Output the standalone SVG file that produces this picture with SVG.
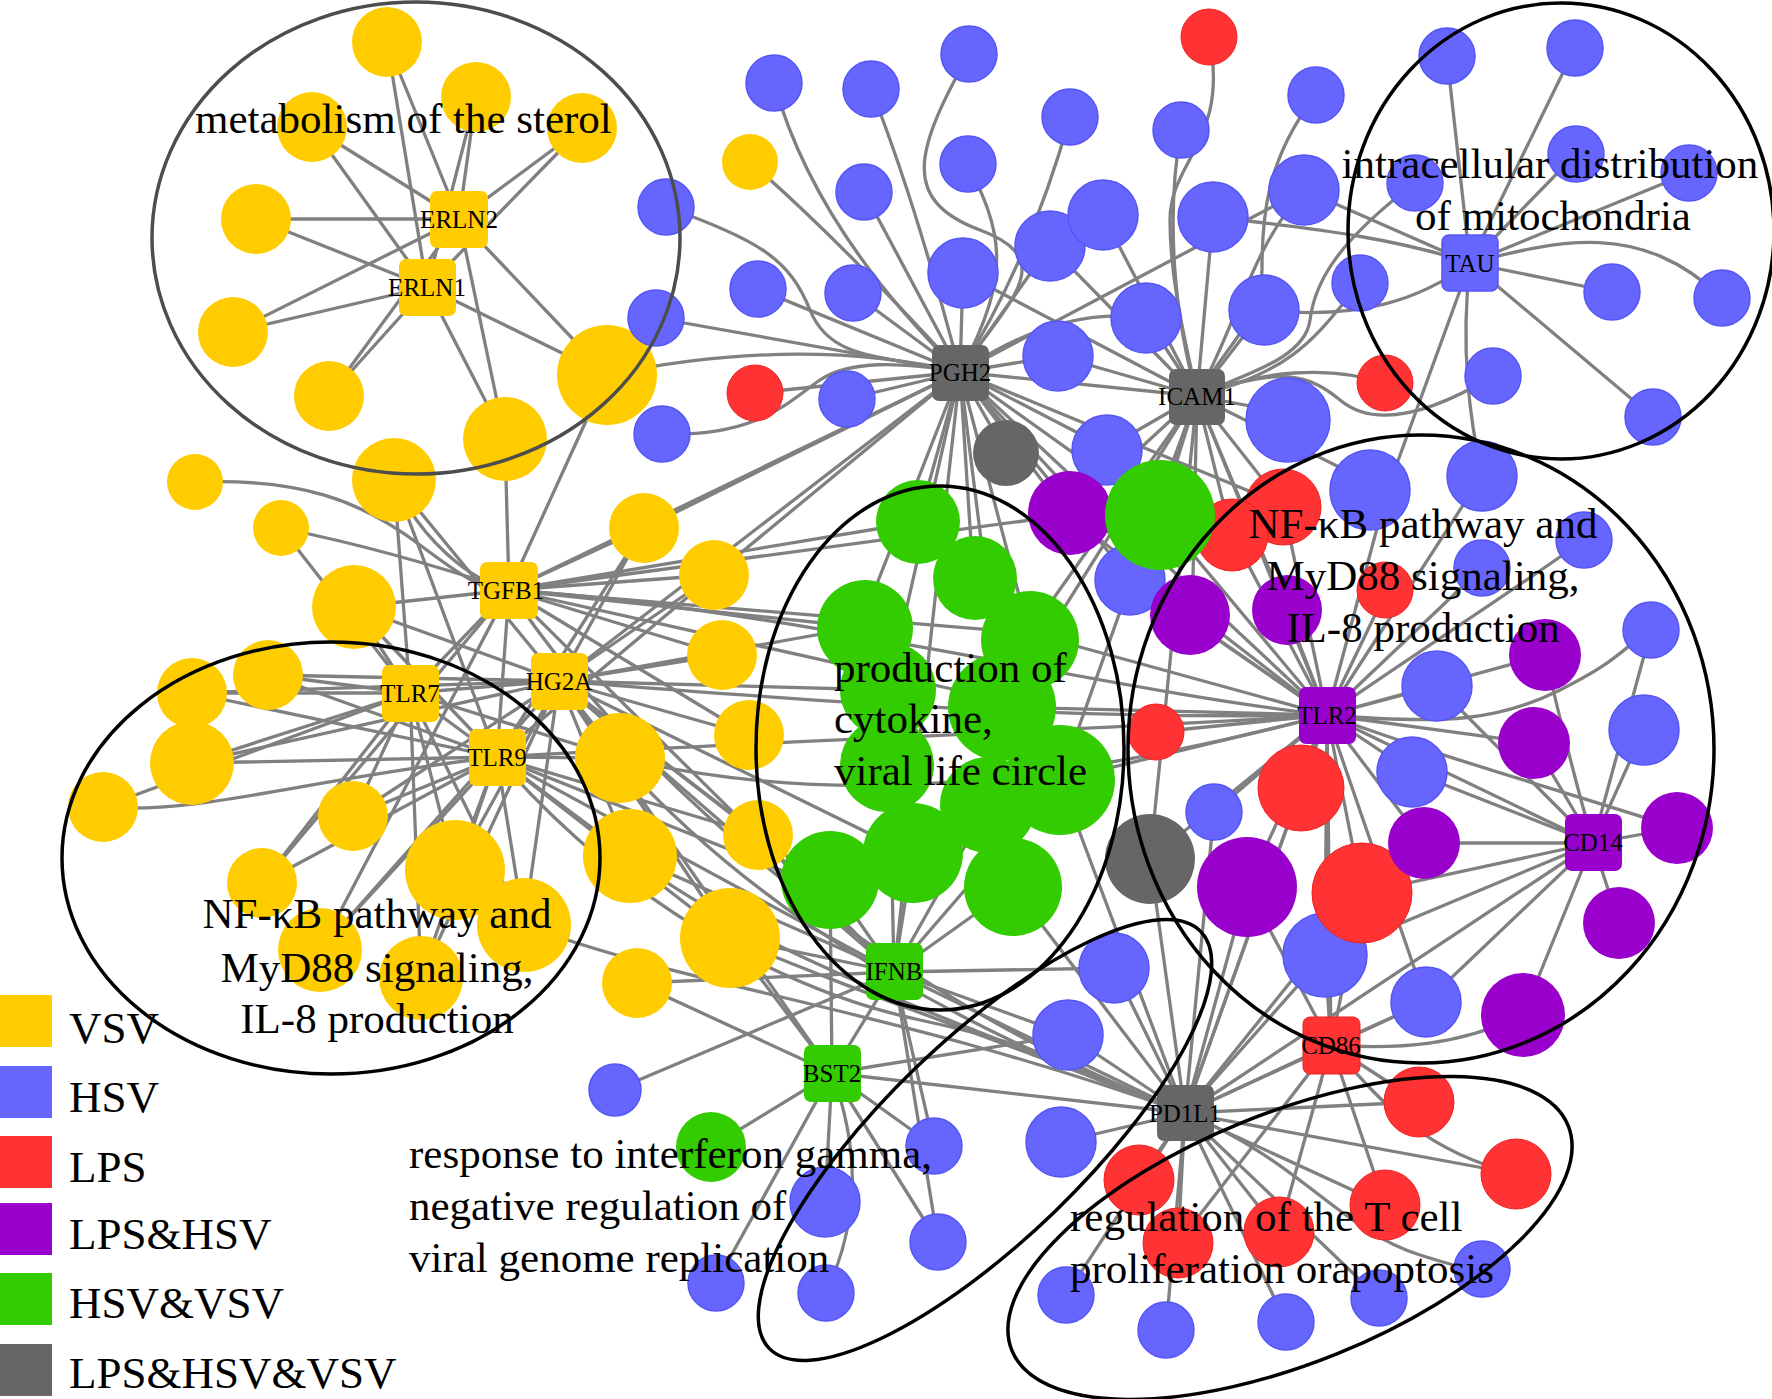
<svg xmlns="http://www.w3.org/2000/svg" width="1772" height="1399" viewBox="0 0 1772 1399">
<style>
.e path{stroke:#808080;stroke-width:3.3;fill:none;stroke-linecap:round}
.y{fill:#FFCC00}
.b{fill:#6666FF;stroke:#5555F5;stroke-width:1.5}
.r{fill:#FF3333;stroke:#F02020;stroke-width:1}
.p{fill:#9900CC}
.g{fill:#33CC00}
.k{fill:#666666}
.lbl{font-family:"Liberation Serif","Times New Roman",serif;font-size:25px;text-anchor:middle;fill:#000}
.ann{font-family:"Liberation Serif","Times New Roman",serif;font-size:43px;fill:#000}
.leg{font-family:"Liberation Serif","Times New Roman",serif;font-size:45px;fill:#000}
.ring{fill:none;stroke:#000;stroke-width:3.5}
</style>
<rect width="1772" height="1399" fill="#fff"/>
<g id="edges" class="e">
<path d="M459 219L387 42"/><path d="M459 219L476 97"/><path d="M459 219L312 127"/><path d="M459 219L582 128"/><path d="M459 219L256 219"/><path d="M459 219L233 332"/><path d="M459 219L329 396"/><path d="M459 219L505 439"/><path d="M459 219L607 375"/>
<path d="M427 287L387 42"/><path d="M427 287L476 97"/><path d="M427 287L312 127"/><path d="M427 287L582 128"/><path d="M427 287L256 219"/><path d="M427 287L233 332"/><path d="M427 287L329 396"/><path d="M427 287L505 439"/><path d="M427 287L607 375"/>
<path d="M509 590L505 439"/><path d="M509 590L607 375"/><path d="M394 480C420 540 470 580 509 590"/><path d="M195 482C300 478 360 500 420 545S480 585 509 590"/><path d="M281 528C340 540 420 560 509 590"/><path d="M509 590L354 607"/><path d="M509 590L644 528"/><path d="M509 590L714 575"/><path d="M509 590L722 655"/><path d="M509 590L749 735"/><path d="M509 590L918 522"/><path d="M509 590L860 627"/><path d="M509 590L1029 633"/><path d="M509 590L1001 700"/><path d="M509 590L1068 515"/><path d="M509 590L960 372"/><path d="M509 590L497 757"/><path d="M509 590L410 693"/><path d="M509 590L262 883"/><path d="M509 590L320 950"/><path d="M509 590C800 610 1100 690 1327 715"/><path d="M509 590L894 972"/><path d="M509 590C650 800 900 1000 1185 1113"/>
<path d="M559 681L394 480"/><path d="M559 681L354 607"/><path d="M559 681L268 675"/><path d="M559 681L192 693"/><path d="M559 681L192 763"/><path d="M559 681L353 816"/><path d="M559 681L455 870"/><path d="M559 681L524 925"/><path d="M559 681L620 758"/><path d="M559 681L630 856"/><path d="M559 681L644 528"/><path d="M559 681L714 575"/><path d="M559 681L722 655"/><path d="M559 681L749 735"/><path d="M559 681L758 835"/><path d="M559 681L730 938"/><path d="M559 681L860 627"/><path d="M559 681L888 690"/><path d="M559 681L915 856"/><path d="M559 681L831 890"/><path d="M559 681L894 972"/><path d="M559 681C800 700 1050 720 1327 715"/><path d="M559 681C680 860 900 1010 1185 1113"/><path d="M559 681L960 372"/><path d="M559 681L421 978"/><path d="M559 681L320 950"/><path d="M559 681L410 693"/>
<path d="M410 693L394 480"/><path d="M410 693L281 528"/><path d="M410 693L354 607"/><path d="M410 693L268 675"/><path d="M410 693L192 693"/><path d="M410 693L192 763"/><path d="M410 693L103 807"/><path d="M410 693L353 816"/><path d="M410 693L262 883"/><path d="M410 693L455 870"/><path d="M410 693L524 925"/><path d="M410 693L421 978"/><path d="M410 693L497 757"/><path d="M410 693L620 758"/>
<path d="M497 757L394 480"/><path d="M497 757L354 607"/><path d="M497 757L268 675"/><path d="M497 757L192 693"/><path d="M497 757L192 763"/><path d="M103 807C200 815 300 780 497 757"/><path d="M497 757L353 816"/><path d="M497 757L262 883"/><path d="M497 757L455 870"/><path d="M497 757L524 925"/><path d="M497 757L320 950"/><path d="M497 757L421 978"/><path d="M497 757L620 758"/><path d="M497 757L630 856"/><path d="M497 757L758 835"/><path d="M497 757L730 938"/><path d="M497 757L831 890"/><path d="M497 757L894 972"/><path d="M497 757C620 900 780 990 920 1020S1100 1080 1185 1113"/><path d="M497 757C800 740 1100 730 1327 715"/><path d="M497 757L714 575"/><path d="M497 757L644 528"/>
<path d="M524 925C700 990 900 1010 1185 1113"/><path d="M630 856C750 950 950 1020 1185 1113"/><path d="M730 938C850 990 1000 1040 1185 1113"/><path d="M620 758C800 800 1000 800 1327 715"/>
<path d="M774 83Q815 230 960 372"/><path d="M871 89Q915 200 960 372"/><path d="M969 54C915 150 900 200 980 230S1010 300 960 372"/><path d="M750 162Q840 240 960 372"/><path d="M666 207C760 240 790 260 810 310S880 355 960 372"/><path d="M960 372L864 192"/><path d="M968 164C1000 230 1015 270 960 372"/><path d="M1070 117Q1030 260 960 372"/><path d="M960 372L963 273"/><path d="M960 372L1050 246"/><path d="M960 372L758 289"/><path d="M960 372L853 293"/><path d="M960 372L656 318"/><path d="M607 375Q800 335 960 372"/><path d="M960 372L755 393"/><path d="M960 372L847 399"/><path d="M662 434C760 437 790 400 820 380S900 362 960 372"/><path d="M960 372L1058 356"/><path d="M1146 318Q1060 305 960 372"/><path d="M960 372L1006 453"/><path d="M960 372L1107 448"/><path d="M960 372L1197 396"/><path d="M960 372L1304 190"/><path d="M960 372L918 522"/><path d="M960 372L973 573"/><path d="M960 372L1029 633"/><path d="M960 372L1068 515"/><path d="M960 372L1160 515"/><path d="M960 372L1327 715"/><path d="M960 372L894 972"/><path d="M960 372L860 627"/><path d="M960 372L644 528"/><path d="M960 372L714 575"/><path d="M960 372L1283 505"/><path d="M960 372L1130 578"/><path d="M960 372L1192 622"/><path d="M960 372L1002 707"/><path d="M960 372L888 690"/>
<path d="M1209 37C1230 140 1170 160 1170 220S1185 340 1197 396"/><path d="M1316 95C1265 160 1262 220 1262 270S1230 340 1197 396"/><path d="M1181 130C1165 220 1175 320 1197 396"/><path d="M1197 396L1213 217"/><path d="M1304 190C1250 250 1235 330 1197 396"/><path d="M1197 396L1264 310"/><path d="M1360 283C1320 330 1300 370 1197 396"/><path d="M1415 183C1340 240 1315 280 1310 320S1240 375 1197 396"/><path d="M1197 396L1287 413"/><path d="M1385 383C1330 365 1260 370 1197 396"/><path d="M1493 376C1420 420 1370 425 1340 400S1280 365 1197 396"/><path d="M1197 396L1146 318"/><path d="M1197 396L1103 215"/><path d="M1197 396L963 273"/><path d="M1197 396L1058 356"/><path d="M1197 396L1107 448"/><path d="M1197 396L1160 515"/><path d="M1197 396L1068 515"/><path d="M1197 396L1283 505"/><path d="M1197 396L1230 530"/><path d="M1197 396L1327 715"/><path d="M1197 396L1192 622"/><path d="M1197 396L1130 578"/><path d="M1197 396L1150 859"/><path d="M1197 396L1029 633"/><path d="M1197 396L1002 707"/><path d="M1197 396L1060 780"/><path d="M1197 396L1289 617"/><path d="M1197 396L1387 491"/><path d="M1197 396L1050 246"/>
<path d="M1470 263L1447 56"/><path d="M1470 263L1575 48"/><path d="M1470 263L1576 154"/><path d="M1470 263L1689 173"/><path d="M1470 263L1612 292"/><path d="M1470 263C1560 240 1640 220 1722 298"/><path d="M1470 263L1653 417"/><path d="M1470 263L1304 190"/><path d="M1470 263C1400 240 1330 230 1213 217"/><path d="M1470 263C1420 300 1360 320 1264 310"/><path d="M1470 263L1387 491"/><path d="M1470 263C1460 350 1470 420 1482 476"/>
<path d="M1327 715L1283 505"/><path d="M1327 715L1230 530"/><path d="M1327 715L1160 515"/><path d="M1327 715L1068 515"/><path d="M1327 715L1192 622"/><path d="M1327 715L1289 617"/><path d="M1327 715L1387 590"/><path d="M1327 715L1387 491"/><path d="M1327 715L1482 476"/><path d="M1327 715C1420 650 1500 600 1584 540"/><path d="M1327 715L1482 568"/><path d="M1327 715L1130 578"/><path d="M1327 715L1437 686"/><path d="M1327 715C1450 725 1500 720 1560 690S1620 650 1651 630"/><path d="M1327 715L1534 743"/><path d="M1327 715L1156 732"/><path d="M1327 715L1301 788"/><path d="M1327 715L1412 772"/><path d="M1327 715L1214 812"/><path d="M1327 715L1424 843"/><path d="M1327 715L1247 887"/><path d="M1327 715L1362 893"/><path d="M1327 715L1150 859"/><path d="M1327 715L1325 955"/><path d="M1327 715L1331 1045"/><path d="M1327 715L1593 843"/><path d="M1327 715L1185 1113"/><path d="M1327 715L1060 780"/><path d="M1327 715L1029 633"/><path d="M1327 715L1002 707"/><path d="M1327 715C1450 760 1560 790 1677 828"/><path d="M1327 715L1426 1002"/><path d="M1327 715L1545 655"/>
<path d="M1545 655C1560 720 1575 780 1593 843"/><path d="M1593 843L1534 743"/><path d="M1593 843L1677 828"/><path d="M1593 843L1619 923"/><path d="M1593 843L1644 730"/><path d="M1593 843L1412 772"/><path d="M1593 843L1424 843"/><path d="M1593 843L1362 893"/><path d="M1593 843L1426 1002"/><path d="M1593 843L1523 1015"/><path d="M1593 843L1651 630"/><path d="M1593 843L1185 1113"/><path d="M1593 843L1437 686"/><path d="M1593 843L1325 955"/>
<path d="M1331 1045L1426 1002"/><path d="M1331 1045C1400 1050 1460 1045 1523 1015"/><path d="M1331 1045L1419 1102"/><path d="M1331 1045C1380 1100 1420 1150 1516 1174"/><path d="M1331 1045L1385 1205"/><path d="M1331 1045L1279 1232"/><path d="M1331 1045L1185 1113"/><path d="M1331 1045L1325 955"/><path d="M1331 1045L1362 893"/><path d="M1331 1045L1247 887"/><path d="M1331 1045L1178 1243"/>
<path d="M1185 1113L1419 1102"/><path d="M1185 1113L1516 1174"/><path d="M1185 1113L1385 1205"/><path d="M1185 1113L1279 1232"/><path d="M1185 1113L1178 1243"/><path d="M1185 1113L1139 1180"/><path d="M1185 1113C1300 1160 1340 1230 1420 1255S1470 1265 1482 1269"/><path d="M1185 1113L1379 1298"/><path d="M1185 1113L1286 1322"/><path d="M1185 1113L1166 1330"/><path d="M1185 1113L1066 1295"/><path d="M1185 1113L1061 1142"/><path d="M1185 1113L1068 1035"/><path d="M1185 1113L1114 968"/><path d="M1185 1113L1325 955"/><path d="M1185 1113L1247 887"/><path d="M1185 1113L1301 788"/><path d="M1185 1113L1362 893"/><path d="M1185 1113L1150 859"/><path d="M1185 1113L894 972"/><path d="M1185 1113L832 1073"/><path d="M1185 1113L1060 780"/><path d="M1185 1113L1013 887"/><path d="M1185 1113L1214 812"/><path d="M1185 1113L1426 1002"/>
<path d="M894 972L730 938"/><path d="M894 972L637 983"/><path d="M894 972L913 853"/><path d="M894 972L830 880"/><path d="M894 972L1013 887"/><path d="M894 972L1060 780"/><path d="M894 972L1114 968"/><path d="M894 972L934 1146"/><path d="M894 972L938 1242"/><path d="M894 972L832 1073"/><path d="M894 972L758 835"/><path d="M894 972L615 1090"/><path d="M894 972L1068 1035"/><path d="M894 972L888 690"/><path d="M894 972L630 856"/><path d="M894 972L988 805"/>
<path d="M832 1073L711 1147"/><path d="M832 1073L825 1202"/><path d="M832 1073L716 1283"/><path d="M832 1073C860 1150 860 1220 826 1293"/><path d="M832 1073L938 1242"/><path d="M832 1073L1068 1035"/><path d="M832 1073L934 1146"/><path d="M832 1073L637 983"/><path d="M832 1073L730 938"/><path d="M832 1073L830 880"/><path d="M832 1073L559 681"/>
</g>
<g id="nodes">
<g id="n-y1" class="y"><circle cx="387" cy="42" r="35"/></g>
<g id="n-y2" class="y"><circle cx="476" cy="97" r="35"/></g>
<g id="n-y3" class="y"><circle cx="312" cy="127" r="35"/></g>
<g id="n-y4" class="y"><circle cx="582" cy="128" r="35"/></g>
<g id="n-y5" class="y"><circle cx="256" cy="219" r="35"/></g>
<g id="n-y6" class="y"><circle cx="233" cy="332" r="35"/></g>
<g id="n-y7" class="y"><circle cx="329" cy="396" r="35"/></g>
<g id="n-y8" class="y"><circle cx="505" cy="439" r="42"/></g>
<g id="n-y9" class="y"><circle cx="607" cy="375" r="50"/></g>
<g id="n-y10" class="y"><circle cx="394" cy="480" r="42"/></g>
<g id="n-y11" class="y"><circle cx="195" cy="482" r="28"/></g>
<g id="n-y12" class="y"><circle cx="750" cy="162" r="28"/></g>
<g id="n-y13" class="y"><circle cx="281" cy="528" r="28"/></g>
<g id="n-y14" class="y"><circle cx="354" cy="607" r="42"/></g>
<g id="n-y15" class="y"><circle cx="268" cy="675" r="35"/></g>
<g id="n-y16" class="y"><circle cx="192" cy="693" r="35"/></g>
<g id="n-y17" class="y"><circle cx="192" cy="763" r="42"/></g>
<g id="n-y18" class="y"><circle cx="103" cy="807" r="35"/></g>
<g id="n-y19" class="y"><circle cx="353" cy="816" r="35"/></g>
<g id="n-y20" class="y"><circle cx="262" cy="883" r="35"/></g>
<g id="n-y21" class="y"><circle cx="455" cy="870" r="50"/></g>
<g id="n-y22" class="y"><circle cx="524" cy="925" r="47"/></g>
<g id="n-y23" class="y"><circle cx="320" cy="950" r="42"/></g>
<g id="n-y24" class="y"><circle cx="421" cy="978" r="42"/></g>
<g id="n-y25" class="y"><circle cx="620" cy="758" r="45"/></g>
<g id="n-y26" class="y"><circle cx="630" cy="856" r="47"/></g>
<g id="n-y27" class="y"><circle cx="644" cy="528" r="35"/></g>
<g id="n-y28" class="y"><circle cx="714" cy="575" r="35"/></g>
<g id="n-y29" class="y"><circle cx="722" cy="655" r="35"/></g>
<g id="n-y30" class="y"><circle cx="749" cy="735" r="35"/></g>
<g id="n-y31" class="y"><circle cx="758" cy="835" r="35"/></g>
<g id="n-y32" class="y"><circle cx="730" cy="938" r="50"/></g>
<g id="n-y33" class="y"><circle cx="637" cy="983" r="35"/></g>
<g id="n-b1" class="b"><circle cx="774" cy="83" r="28"/></g>
<g id="n-b2" class="b"><circle cx="871" cy="89" r="28"/></g>
<g id="n-b3" class="b"><circle cx="969" cy="54" r="28"/></g>
<g id="n-b4" class="b"><circle cx="666" cy="207" r="28"/></g>
<g id="n-b5" class="b"><circle cx="864" cy="192" r="28"/></g>
<g id="n-b6" class="b"><circle cx="968" cy="164" r="28"/></g>
<g id="n-b7" class="b"><circle cx="1070" cy="117" r="28"/></g>
<g id="n-b8" class="b"><circle cx="1181" cy="130" r="28"/></g>
<g id="n-b9" class="b"><circle cx="963" cy="273" r="35"/></g>
<g id="n-b10" class="b"><circle cx="1050" cy="246" r="35"/></g>
<g id="n-b11" class="b"><circle cx="1103" cy="215" r="35"/></g>
<g id="n-b12" class="b"><circle cx="1213" cy="217" r="35"/></g>
<g id="n-b13" class="b"><circle cx="758" cy="289" r="28"/></g>
<g id="n-b14" class="b"><circle cx="853" cy="293" r="28"/></g>
<g id="n-b15" class="b"><circle cx="656" cy="318" r="28"/></g>
<g id="n-b16" class="b"><circle cx="847" cy="399" r="28"/></g>
<g id="n-b17" class="b"><circle cx="662" cy="434" r="28"/></g>
<g id="n-b18" class="b"><circle cx="1058" cy="356" r="35"/></g>
<g id="n-b19" class="b"><circle cx="1146" cy="318" r="35"/></g>
<g id="n-b20" class="b"><circle cx="1107" cy="450" r="35"/></g>
<g id="n-b21" class="b"><circle cx="1316" cy="95" r="28"/></g>
<g id="n-b22" class="b"><circle cx="1304" cy="190" r="35"/></g>
<g id="n-b23" class="b"><circle cx="1264" cy="310" r="35"/></g>
<g id="n-b24" class="b"><circle cx="1360" cy="283" r="28"/></g>
<g id="n-b25" class="b"><circle cx="1415" cy="183" r="28"/></g>
<g id="n-b26" class="b"><circle cx="1447" cy="56" r="28"/></g>
<g id="n-b27" class="b"><circle cx="1575" cy="48" r="28"/></g>
<g id="n-b28" class="b"><circle cx="1576" cy="154" r="28"/></g>
<g id="n-b29" class="b"><circle cx="1689" cy="173" r="28"/></g>
<g id="n-b30" class="b"><circle cx="1612" cy="292" r="28"/></g>
<g id="n-b31" class="b"><circle cx="1722" cy="298" r="28"/></g>
<g id="n-b32" class="b"><circle cx="1493" cy="376" r="28"/></g>
<g id="n-b33" class="b"><circle cx="1653" cy="417" r="28"/></g>
<g id="n-b34" class="b"><circle cx="1288" cy="420" r="42"/></g>
<g id="n-b35" class="b"><circle cx="1370" cy="490" r="40"/></g>
<g id="n-b36" class="b"><circle cx="1482" cy="476" r="35"/></g>
<g id="n-b37" class="b"><circle cx="1584" cy="540" r="28"/></g>
<g id="n-b38" class="b"><circle cx="1482" cy="568" r="28"/></g>
<g id="n-b39" class="b"><circle cx="1130" cy="580" r="35"/></g>
<g id="n-b40" class="b"><circle cx="1437" cy="686" r="35"/></g>
<g id="n-b41" class="b"><circle cx="1651" cy="630" r="28"/></g>
<g id="n-b42" class="b"><circle cx="1644" cy="730" r="35"/></g>
<g id="n-b43" class="b"><circle cx="1412" cy="772" r="35"/></g>
<g id="n-b44" class="b"><circle cx="1214" cy="812" r="28"/></g>
<g id="n-b45" class="b"><circle cx="1325" cy="955" r="42"/></g>
<g id="n-b46" class="b"><circle cx="1426" cy="1002" r="35"/></g>
<g id="n-b47" class="b"><circle cx="1114" cy="968" r="35"/></g>
<g id="n-b48" class="b"><circle cx="1068" cy="1035" r="35"/></g>
<g id="n-b49" class="b"><circle cx="1061" cy="1142" r="35"/></g>
<g id="n-b50" class="b"><circle cx="934" cy="1146" r="28"/></g>
<g id="n-b51" class="b"><circle cx="825" cy="1202" r="35"/></g>
<g id="n-b52" class="b"><circle cx="938" cy="1242" r="28"/></g>
<g id="n-b53" class="b"><circle cx="716" cy="1283" r="28"/></g>
<g id="n-b54" class="b"><circle cx="826" cy="1293" r="28"/></g>
<g id="n-b55" class="b"><circle cx="615" cy="1090" r="26"/></g>
<g id="n-b56" class="b"><circle cx="1482" cy="1269" r="28"/></g>
<g id="n-b57" class="b"><circle cx="1379" cy="1298" r="28"/></g>
<g id="n-b58" class="b"><circle cx="1286" cy="1322" r="28"/></g>
<g id="n-b59" class="b"><circle cx="1166" cy="1330" r="28"/></g>
<g id="n-b60" class="b"><circle cx="1066" cy="1295" r="28"/></g>
<g id="n-r1" class="r"><circle cx="1209" cy="37" r="28"/></g>
<g id="n-r2" class="r"><circle cx="755" cy="393" r="28"/></g>
<g id="n-r3" class="r"><circle cx="1385" cy="383" r="28"/></g>
<g id="n-r4" class="r"><circle cx="1283" cy="507" r="38"/></g>
<g id="n-r5" class="r"><circle cx="1232" cy="535" r="36"/></g>
<g id="n-r6" class="r"><circle cx="1385" cy="590" r="28"/></g>
<g id="n-r7" class="r"><circle cx="1156" cy="732" r="28"/></g>
<g id="n-r8" class="r"><circle cx="1301" cy="788" r="43"/></g>
<g id="n-r9" class="r"><circle cx="1362" cy="893" r="50"/></g>
<g id="n-r10" class="r"><circle cx="1419" cy="1102" r="35"/></g>
<g id="n-r11" class="r"><circle cx="1516" cy="1174" r="35"/></g>
<g id="n-r12" class="r"><circle cx="1385" cy="1205" r="35"/></g>
<g id="n-r13" class="r"><circle cx="1279" cy="1232" r="35"/></g>
<g id="n-r14" class="r"><circle cx="1178" cy="1243" r="35"/></g>
<g id="n-r15" class="r"><circle cx="1139" cy="1180" r="35"/></g>
<g id="n-p1" class="p"><circle cx="1070" cy="513" r="42"/></g>
<g id="n-p2" class="p"><circle cx="1190" cy="615" r="40"/></g>
<g id="n-p3" class="p"><circle cx="1287" cy="610" r="35"/></g>
<g id="n-p4" class="p"><circle cx="1545" cy="655" r="36"/></g>
<g id="n-p5" class="p"><circle cx="1534" cy="743" r="36"/></g>
<g id="n-p6" class="p"><circle cx="1424" cy="843" r="36"/></g>
<g id="n-p7" class="p"><circle cx="1677" cy="828" r="36"/></g>
<g id="n-p8" class="p"><circle cx="1247" cy="887" r="50"/></g>
<g id="n-p9" class="p"><circle cx="1619" cy="923" r="36"/></g>
<g id="n-p10" class="p"><circle cx="1523" cy="1015" r="42"/></g>
<g id="n-g1" class="g"><circle cx="918" cy="522" r="42"/></g>
<g id="n-g2" class="g"><circle cx="975" cy="578" r="42"/></g>
<g id="n-g3" class="g"><circle cx="865" cy="628" r="48"/></g>
<g id="n-g4" class="g"><circle cx="1030" cy="640" r="49"/></g>
<g id="n-g5" class="g"><circle cx="888" cy="690" r="48"/></g>
<g id="n-g14" class="g"><circle cx="887" cy="765" r="47"/></g>
<g id="n-g6" class="g"><circle cx="1002" cy="707" r="54"/></g>
<g id="n-g13" class="g"><circle cx="988" cy="805" r="48"/></g>
<g id="n-g7" class="g"><circle cx="1060" cy="780" r="55"/></g>
<g id="n-g8" class="g"><circle cx="913" cy="853" r="50"/></g>
<g id="n-g9" class="g"><circle cx="830" cy="880" r="49"/></g>
<g id="n-g10" class="g"><circle cx="1013" cy="887" r="49"/></g>
<g id="n-g11" class="g"><circle cx="1160" cy="515" r="55"/></g>
<g id="n-g12" class="g"><circle cx="711" cy="1147" r="35"/></g>
<g id="n-k1" class="k"><circle cx="1006" cy="453" r="33"/></g>
<g id="n-k2" class="k"><circle cx="1150" cy="859" r="45"/></g>
<g id="n-ERLN2" class="y"><rect x="430" y="191" width="58" height="57" rx="7"/><text class="lbl" x="459" y="228">ERLN2</text></g>
<g id="n-ERLN1" class="y"><rect x="399" y="259" width="57" height="57" rx="7"/><text class="lbl" x="427" y="296">ERLN1</text></g>
<g id="n-TGFB1" class="y"><rect x="480" y="562" width="58" height="57" rx="7"/><text class="lbl" x="506" y="599">TGFB1</text></g>
<g id="n-HG2A" class="y"><rect x="531" y="653" width="57" height="57" rx="7"/><text class="lbl" x="559" y="690">HG2A</text></g>
<g id="n-TLR7" class="y"><rect x="382" y="665" width="57" height="57" rx="7"/><text class="lbl" x="410" y="702">TLR7</text></g>
<g id="n-TLR9" class="y"><rect x="469" y="729" width="57" height="57" rx="7"/><text class="lbl" x="497" y="766">TLR9</text></g>
<g id="n-PGH2" class="k"><rect x="932" y="345" width="57" height="56" rx="7"/><text class="lbl" x="960" y="381">PGH2</text></g>
<g id="n-ICAM1" class="k"><rect x="1169" y="369" width="56" height="56" rx="7"/><text class="lbl" x="1197" y="405">ICAM1</text></g>
<g id="n-TAU" class="b"><rect x="1442" y="235" width="56" height="56" rx="7"/><text class="lbl" x="1470" y="272" style="stroke:none">TAU</text></g>
<g id="n-TLR2" class="p"><rect x="1299" y="687" width="57" height="57" rx="7"/><text class="lbl" x="1327" y="724">TLR2</text></g>
<g id="n-CD14" class="p"><rect x="1565" y="814" width="57" height="57" rx="7"/><text class="lbl" x="1593" y="851">CD14</text></g>
<g id="n-CD86" class="r"><rect x="1303" y="1017" width="57" height="57" rx="7"/><text class="lbl" x="1331" y="1054" style="stroke:none">CD86</text></g>
<g id="n-PD1L1" class="k"><rect x="1157" y="1085" width="57" height="56" rx="7"/><text class="lbl" x="1185" y="1122">PD1L1</text></g>
<g id="n-IFNB" class="g"><rect x="866" y="943" width="57" height="57" rx="7"/><text class="lbl" x="894" y="980">IFNB</text></g>
<g id="n-BST2" class="g"><rect x="804" y="1045" width="57" height="57" rx="7"/><text class="lbl" x="832" y="1082">BST2</text></g>
</g>
<g id="clusters">
<ellipse class="ring" cx="416" cy="238" rx="264" ry="236" style="stroke:#4d4d4d"/>
<ellipse class="ring" cx="1561" cy="231" rx="213" ry="228"/>
<ellipse class="ring" cx="1421" cy="749" rx="293" ry="314"/>
<ellipse class="ring" cx="940" cy="748" rx="184" ry="262"/>
<ellipse class="ring" cx="331" cy="858" rx="269" ry="216"/>
<ellipse class="ring" cx="0" cy="0" rx="300" ry="100" transform="translate(985 1140) rotate(-44)"/>
<ellipse class="ring" cx="0" cy="0" rx="300" ry="125" transform="translate(1290 1238) rotate(-22)"/>
</g>
<g id="annotations">
<text class="ann" x="195" y="133">metabolism of the sterol</text>
<text class="ann" x="1550" y="178" text-anchor="middle">intracellular distribution</text>
<text class="ann" x="1553" y="230" text-anchor="middle">of mitochondria</text>
<text class="ann" x="1423" y="538" text-anchor="middle">NF-κB pathway and</text>
<text class="ann" x="1423" y="590" text-anchor="middle">MyD88 signaling,</text>
<text class="ann" x="1423" y="642" text-anchor="middle">IL-8 production</text>
<text class="ann" x="834" y="682">production of</text>
<text class="ann" x="834" y="733">cytokine,</text>
<text class="ann" x="834" y="785">viral life circle</text>
<text class="ann" x="377" y="928" text-anchor="middle">NF-κB pathway and</text>
<text class="ann" x="377" y="982" text-anchor="middle">MyD88 signaling,</text>
<text class="ann" x="377" y="1033" text-anchor="middle">IL-8 production</text>
<text class="ann" x="409" y="1168">response to interferon gamma,</text>
<text class="ann" x="409" y="1220">negative regulation of</text>
<text class="ann" x="409" y="1272">viral genome replication</text>
<text class="ann" x="1070" y="1231">regulation of the T cell</text>
<text class="ann" x="1070" y="1283">proliferation orapoptosis</text>
</g>
<g id="legend">
<rect x="0" y="995" width="52" height="52" fill="#FFCC00"/>
<rect x="0" y="1066" width="52" height="52" fill="#6666FF"/>
<rect x="0" y="1136" width="52" height="52" fill="#FF3333"/>
<rect x="0" y="1203" width="52" height="52" fill="#9900CC"/>
<rect x="0" y="1273" width="52" height="52" fill="#33CC00"/>
<rect x="0" y="1344" width="52" height="52" fill="#666666"/>
<text class="leg" x="69" y="1043">VSV</text>
<text class="leg" x="69" y="1112">HSV</text>
<text class="leg" x="69" y="1182">LPS</text>
<text class="leg" x="69" y="1249">LPS&amp;HSV</text>
<text class="leg" x="69" y="1318">HSV&amp;VSV</text>
<text class="leg" x="69" y="1388">LPS&amp;HSV&amp;VSV</text>
</g>
</svg>
